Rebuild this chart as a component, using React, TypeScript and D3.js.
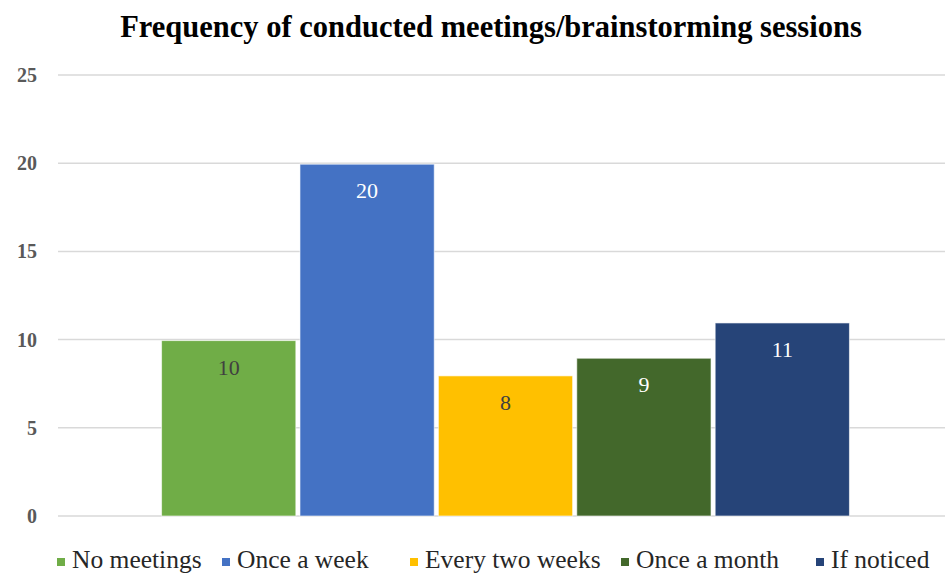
import { useEffect, useRef } from 'react'
import * as d3 from 'd3'

const series = ['No meetings', 'Once a week', 'Every two weeks', 'Once a month', 'If noticed']
const values = [10, 20, 8, 9, 11]
const colors = ['#70AD47', '#4472C4', '#FFC000', '#43682B', '#264478']
const labelColors = ['#404040', '#ffffff', '#404040', '#ffffff', '#ffffff']
const yTicks = [0, 5, 10, 15, 20, 25]

export default function App() {
  const ref = useRef<SVGSVGElement>(null)

  useEffect(() => {
    const W = 945
    const H = 575
    const margin = { top: 75, right: 0, bottom: 59, left: 58 }
    const svg = d3.select(ref.current)
    svg.selectAll('*').remove()

    // category band, group of bars sits slightly right of centre like the original
    const x0 = d3.scaleBand<string>()
      .domain(['all'])
      .range([margin.left + 8, W - margin.right])
      .padding(0.122)

    const x1 = d3.scaleBand<string>()
      .domain(series)
      .range([0, x0.bandwidth()])
      .paddingInner(0.03)

    const y = d3.scaleLinear()
      .domain([0, 25])
      .range([H - margin.bottom, margin.top])

    svg.append('rect').attr('width', W).attr('height', H).attr('fill', '#fff')

    // title
    svg.append('text')
      .attr('x', 491)
      .attr('y', 37)
      .attr('text-anchor', 'middle')
      .style('font-family', '"Liberation Serif", serif')
      .style('font-weight', 'bold')
      .style('font-size', '30.5px')
      .style('fill', '#000')
      .text('Frequency of conducted meetings/brainstorming sessions')

    // grid + y labels
    const grid = svg.append('g')
    grid.selectAll('line')
      .data(yTicks)
      .join('line')
      .attr('x1', margin.left)
      .attr('x2', W - margin.right)
      .attr('y1', d => y(d))
      .attr('y2', d => y(d))
      .attr('stroke', '#d9d9d9')
      .attr('stroke-width', 1.5)

    grid.selectAll('text')
      .data(yTicks)
      .join('text')
      .attr('x', 37)
      .attr('y', d => y(d) + 7)
      .attr('text-anchor', 'end')
      .style('font-family', '"Liberation Serif", serif')
      .style('font-weight', 'bold')
      .style('font-size', '20px')
      .style('fill', '#595959')
      .text(d => d)

    // bars
    const g = svg.append('g').attr('transform', `translate(${x0('all')},0)`)
    g.selectAll('rect')
      .data(values)
      .join('rect')
      .attr('x', (d, i) => x1(series[i])!)
      .attr('width', x1.bandwidth())
      .attr('y', d => y(d) + 1)
      .attr('height', d => y(0) - y(d) - 1)
      .attr('fill', (d, i) => colors[i])
      .attr('stroke', '#ffffff')
      .attr('stroke-opacity', 0.6)
      .attr('stroke-width', 1)

    g.selectAll('text')
      .data(values)
      .join('text')
      .attr('x', (d, i) => x1(series[i])! + x1.bandwidth() / 2)
      .attr('y', d => y(d) + 35)
      .attr('text-anchor', 'middle')
      .style('font-family', '"Liberation Serif", serif')
      .style('font-size', '22px')
      .style('fill', (d, i) => labelColors[i])
      .text(d => d)

    // legend
    const legendX = [57, 222, 410, 621, 816]
    const legend = svg.append('g')
    series.forEach((s, i) => {
      legend.append('rect')
        .attr('x', legendX[i])
        .attr('y', 558)
        .attr('width', 8)
        .attr('height', 8)
        .attr('fill', colors[i])
      legend.append('text')
        .attr('x', legendX[i] + 15)
        .attr('y', 568)
        .style('font-family', '"Liberation Serif", serif')
        .style('font-size', '25.5px')
        .style('fill', '#262626')
        .text(s)
    })
  }, [])

  return (
    <svg ref={ref} width={945} height={575} style={{ display: 'block', position: 'absolute', left: 0, top: 0 }} />
  )
}
